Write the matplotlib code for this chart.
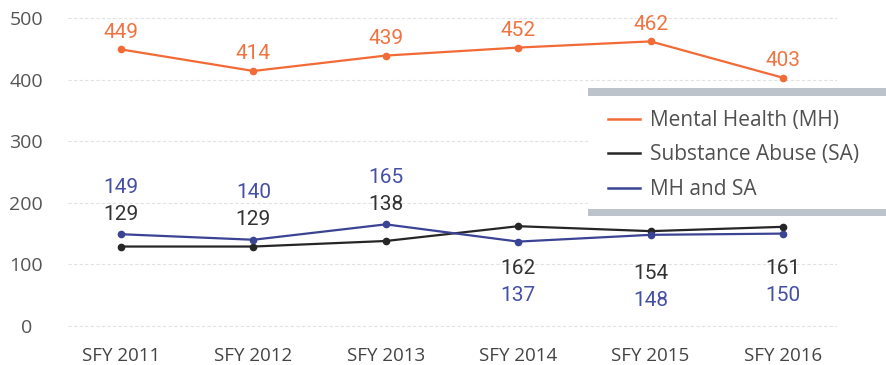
import matplotlib
matplotlib.use("Agg")
import matplotlib.pyplot as plt
from matplotlib.patches import Rectangle

# Data
years = ["SFY 2011", "SFY 2012", "SFY 2013", "SFY 2014", "SFY 2015", "SFY 2016"]
mental_health = [449, 414, 439, 452, 462, 403]
substance_abuse = [129, 129, 138, 162, 154, 161]
mh_and_sa = [149, 140, 165, 137, 148, 150]
y_ticks = [0, 100, 200, 300, 400, 500]

ORANGE = "#F26A35"
ORANGE_TXT = "#F07442"
BLACK = "#262626"
BLUE = "#3B4395"
BLUE_TXT = "#4450A3"
GREY_TXT = "#555555"

plt.rcParams["font.family"] = ["Open Sans", "DejaVu Sans"]
NARROW = ["Liberation Sans Narrow", "Roboto", "DejaVu Sans"]

W, H = 887, 365
fig = plt.figure(figsize=(W / 100, H / 100), dpi=100)

# axes placement in pixels
ax_left, ax_right = 68, 837
ax_top, ax_bot = 10, 340
ax = fig.add_axes([ax_left / W, 1 - ax_bot / H, (ax_right - ax_left) / W, (ax_bot - ax_top) / H])

px_per_unit = 0.616
zero_px = 326
ax.set_ylim(-(ax_bot - zero_px) / px_per_unit, (zero_px - ax_top) / px_per_unit)
x0_px, step_px = 121, 132.4
ax.set_xlim(-(x0_px - ax_left) / step_px, 5 + (ax_right - (x0_px + 5 * step_px)) / step_px)

x = list(range(len(years)))

for spine in ax.spines.values():
    spine.set_visible(False)

ax.set_yticks(y_ticks)
ax.set_xticks(x)
ax.set_xticklabels(years)
ax.tick_params(axis="both", length=0, labelcolor=GREY_TXT)
ax.tick_params(axis="y", pad=30, labelsize=14)
ax.tick_params(axis="x", pad=5, labelsize=13.5, labelcolor="#444444")
for lbl in ax.get_yticklabels():
    lbl.set_horizontalalignment("center")

for t in y_ticks:
    ax.axhline(t, color="#e2e2e2", lw=0.8, ls=(0, (3, 2)), zorder=0)

line_kw = dict(lw=1.6, marker="o", markersize=4.5, zorder=3)
ax.plot(x, mental_health, color=ORANGE, label="Mental Health (MH)", **line_kw)
ax.plot(x, substance_abuse, color=BLACK, label="Substance Abuse (SA)", **line_kw)
ax.plot(x, mh_and_sa, color=BLUE, label="MH and SA", **line_kw)

pt = 100 / 72  # pixels per point
lab_kw = dict(textcoords="offset points", ha="center", va="center", fontsize=15,
              family=NARROW)

for i, v in enumerate(mental_health):
    ax.annotate(str(v), (i, v), xytext=(0, 17 / pt), color=ORANGE_TXT, **lab_kw)

for i, (sa, both) in enumerate(zip(substance_abuse, mh_and_sa)):
    top = max(sa, both)
    if both >= sa:
        # labels stacked above the pair
        ax.annotate(str(sa), (i, top), xytext=(0, 20 / pt), color="#333333", **lab_kw)
        ax.annotate(str(both), (i, top), xytext=(0, 47 / pt), color=BLUE_TXT, **lab_kw)
    else:
        # labels stacked below the pair
        ax.annotate(str(sa), (i, top), xytext=(0, -42 / pt), color="#333333", **lab_kw)
        ax.annotate(str(both), (i, top), xytext=(0, -69 / pt), color=BLUE_TXT, **lab_kw)

# legend panel with grey rules above and below
panel_x0, panel_y0, panel_y1 = 588, 92, 213
fig.patches.append(Rectangle((panel_x0 / W, 1 - panel_y1 / H), (W - panel_x0) / W,
                             (panel_y1 - panel_y0) / H, transform=fig.transFigure,
                             facecolor="white", edgecolor="none", zorder=1))
for yb in (panel_y0, panel_y1):
    fig.patches.append(Rectangle((panel_x0 / W, 1 - (yb + 3.5) / H), (W - panel_x0) / W,
                                 7 / H, transform=fig.transFigure,
                                 facecolor="#bcc3cb", edgecolor="none", zorder=2))

leg_fs = 15
fs_px = leg_fs * pt
leg = ax.legend(loc="center left", bbox_to_anchor=(608 / W, 1 - 155 / H),
                bbox_transform=fig.transFigure, frameon=False, fontsize=leg_fs,
                borderpad=0, borderaxespad=0, handlelength=32 / fs_px,
                handletextpad=10 / fs_px, labelspacing=0.65)
for h in leg.legend_handles:
    h.set_marker("")
    h.set_linewidth(1.8)
for t in leg.get_texts():
    t.set_color("#505050")
leg.set_zorder(3)
leg.remove()
fig.add_artist(leg)

fig.savefig("out.png", dpi=100)
